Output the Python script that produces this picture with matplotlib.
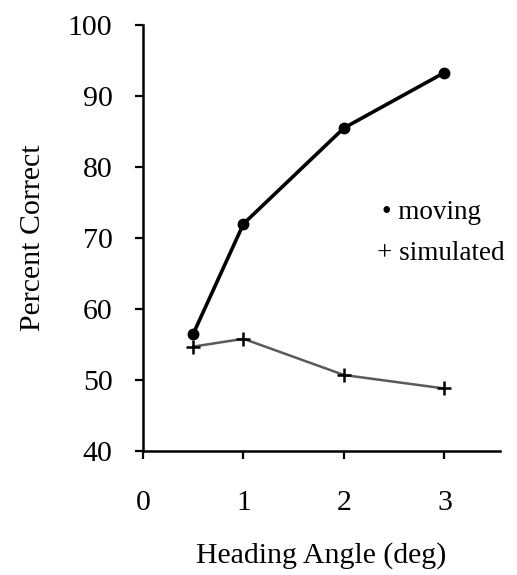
import matplotlib
matplotlib.use('Agg')
import matplotlib.pyplot as plt

# heading angle (deg)
angle = [0.5, 1, 2, 3]
moving = [56.5, 72.0, 85.5, 93.3]
simulated = [54.7, 55.8, 50.7, 48.8]

xticks = [0, 1, 2, 3]
yticks = [40, 50, 60, 70, 80, 90, 100]

plt.rcParams['font.family'] = ['Liberation Serif', 'DejaVu Serif']
plt.rcParams['font.size'] = 21.5

fig = plt.figure(figsize=(5.17, 5.75), dpi=100)
ax = fig.add_axes([0.2766, 0.2157, 0.69, 0.7408])

ax.plot(angle, simulated, color='#5a5a5a', lw=1.8,
        marker='+', ms=10, mew=1.8, mec='black', zorder=2)
ax.plot(angle, moving, color='black', lw=2.6, marker='o', ms=7.5,
        mfc='black', mec='black', zorder=3)

ax.set_xlim(0, 3.55)
ax.set_ylim(40, 100)
ax.set_xticks(xticks)
ax.set_yticks(yticks)
ax.spines['top'].set_visible(False)
ax.spines['right'].set_visible(False)
for s in ['left', 'bottom']:
    ax.spines[s].set_linewidth(1.8)
ax.tick_params(direction='out', length=6, width=1.6)
ax.tick_params(axis='y', pad=16)
ax.tick_params(axis='x', pad=22)

ax.set_xlabel('Heading Angle (deg)', labelpad=19)
ax.set_ylabel('Percent Correct', labelpad=16)

# legend typed as text, like the original figure
ax.text(2.38, 73.6, '\u2022 moving', va='center', ha='left', fontsize=19.5)
ax.text(2.33, 67.8, '+ simulated', va='center', ha='left', fontsize=19.5)

fig.savefig('out.png', dpi=100)
